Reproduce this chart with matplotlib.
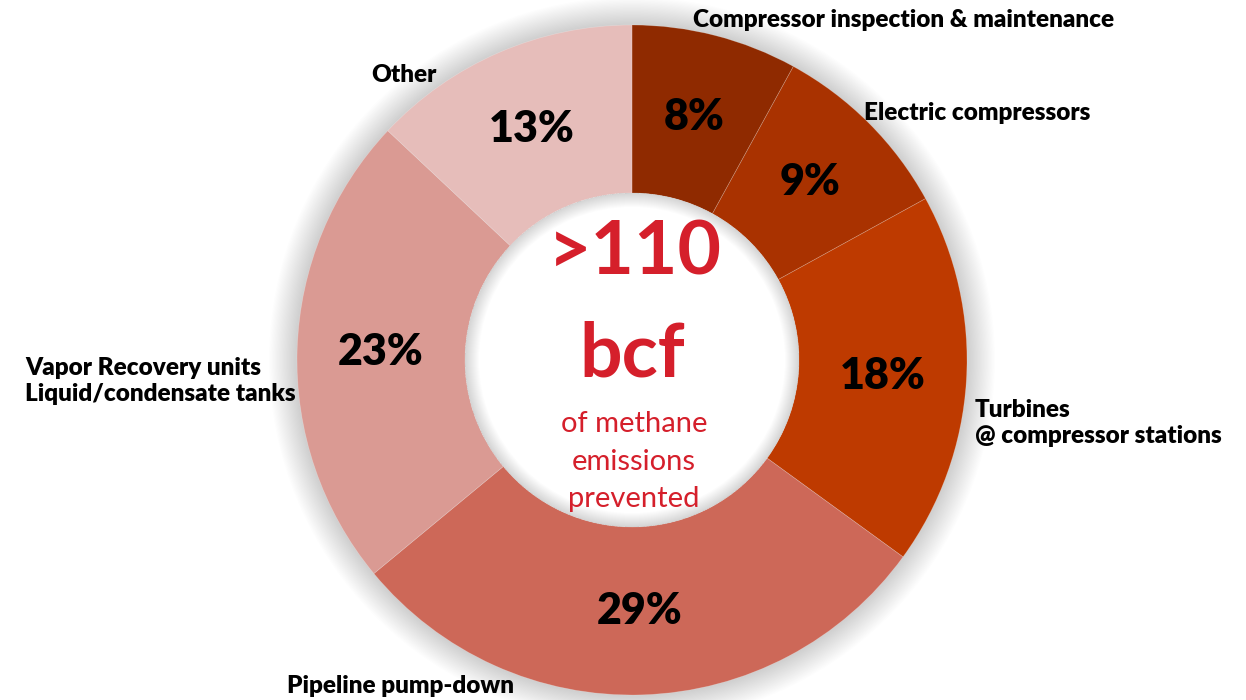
import matplotlib
matplotlib.use("Agg")
import matplotlib.pyplot as plt
from matplotlib.patches import Circle, Wedge
import numpy as np

categories = ["Compressor inspection & maintenance", "Electric compressors",
              "Turbines\n@ compressor stations", "Pipeline pump-down",
              "Vapor Recovery units\nLiquid/condensate tanks", "Other"]
values = [8, 9, 18, 29, 23, 13]
colors = ["#8F2A00", "#A93200", "#BE3A00", "#CD6858", "#DA9A93", "#E6BDBA"]

plt.rcParams['font.family'] = ['Lato', 'DejaVu Sans']

W, H = 1246, 700
fig = plt.figure(figsize=(W / 100, H / 100), dpi=100)
ax = fig.add_axes([0, 0, 1, 1])

cx, cy = 632, H - 360
R = 335
r_in = 167

# soft outer shadow
n = 24
for i in range(n):
    rr = R + 28 * (1 - i / n)
    ax.add_patch(Circle((cx, cy), rr, color='black', alpha=0.008, lw=0, zorder=0))

wedges, texts, autotexts = ax.pie(
    values, colors=colors, startangle=90, counterclock=False,
    center=(cx, cy), radius=R, autopct='%d%%', pctdistance=0.75,
    wedgeprops=dict(width=R - r_in, linewidth=0.5, edgecolor=(1, 1, 1, 0.25)),
    textprops=dict(fontsize=31, fontweight='heavy', color='black'),
    frame=True)
for t in autotexts:
    t.set_zorder(5)
ax.set_xlim(0, W)
ax.set_ylim(0, H)
ax.set_aspect('equal')
ax.axis('off')

# inner hole with inner shadow
ax.add_patch(Circle((cx, cy), r_in, color='white', lw=0, zorder=2))
for i in range(14):
    ax.add_patch(Wedge((cx, cy), r_in, 0, 360, width=14 * (1 - i / 14),
                       color='black', alpha=0.010, lw=0, zorder=3))

red = "#D51F2B"
ax.text(635, H - 253, ">110", ha='center', va='center', fontsize=54,
        fontweight='bold', color=red, zorder=6)
ax.text(632, H - 355, "bcf", ha='center', va='center', fontsize=54,
        fontweight='bold', color=red, zorder=6)
for i, line in enumerate(["of methane", "emissions", "prevented"]):
    ax.text(634, H - (424 + 37.5 * i), line, ha='center', va='center',
            fontsize=21, color=red, zorder=6)

lab_kw = dict(fontsize=17.5, fontweight='heavy', color='black', ha='left', va='center',
              linespacing=1.25, zorder=6)
ax.text(693, H - 20, categories[0], **lab_kw)
ax.text(864, H - 113, categories[1], **lab_kw)
ax.text(975, H - 423, categories[2], **lab_kw)
ax.text(287, H - 686, categories[3], **lab_kw)
ax.text(25, H - 381, categories[4], **lab_kw)
ax.text(371, H - 75, categories[5], **lab_kw)

fig.savefig("out.png", dpi=100, facecolor='white')
